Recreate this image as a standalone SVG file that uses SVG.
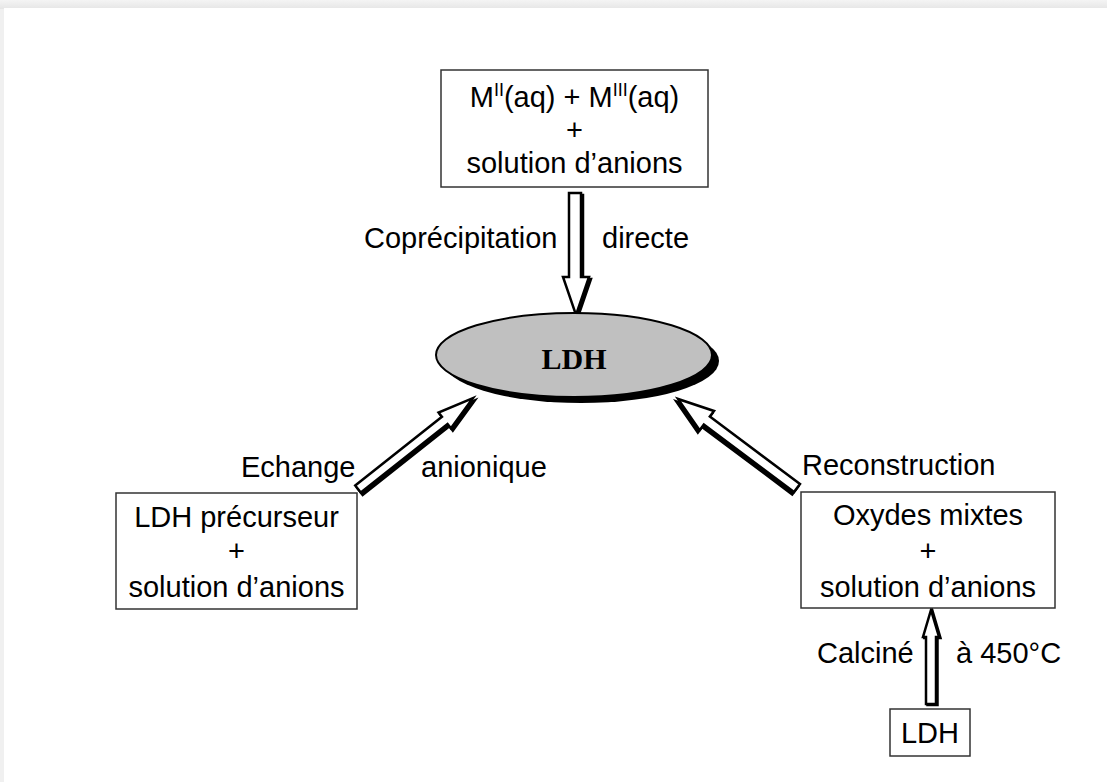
<svg xmlns="http://www.w3.org/2000/svg" width="1107" height="782" viewBox="0 0 1107 782">
<defs>
<style>
.t{font-family:"Liberation Sans",Arial,sans-serif;font-size:29px;fill:#000}
.c{text-anchor:middle}
.box{fill:#fff;stroke:#333;stroke-width:1.5}
.arr{fill:#fff;stroke:#000;stroke-width:2.5;stroke-linejoin:miter}
.sh{fill:#000;stroke:#000;stroke-width:2.5}
</style>
<linearGradient id="topg" x1="0" y1="0" x2="0" y2="1">
<stop offset="0" stop-color="#f4f4f4"/><stop offset="1" stop-color="#e6e6e6"/>
</linearGradient>
</defs>
<rect x="0" y="0" width="1107" height="782" fill="#f0f0f0"/>
<rect x="0" y="0" width="1107" height="9" fill="url(#topg)"/>
<rect x="4" y="8" width="1103" height="774" fill="#fff"/>

<g id="connectors">
<g id="arrow-coprecipitation">
<polygon class="sh" transform="translate(2 2)" points="569,193 581,193 581,277 589,277 576,315 563,277 569,277"/>
<polygon class="arr" points="569,193 581,193 581,277 589,277 576,315 563,277 569,277"/>
</g>
<g id="arrow-echange" transform="translate(358 489) rotate(-38.35)">
<polygon class="sh" transform="translate(0 3)" points="0,-4.5 110.6,-4.5 110.6,-10 146.6,0 110.6,10 110.6,4.5 0,4.5"/>
<polygon class="arr" points="0,-4.5 110.6,-4.5 110.6,-10 146.6,0 110.6,10 110.6,4.5 0,4.5"/>
</g>
<g id="arrow-reconstruction" transform="translate(797 488) rotate(-143.2)">
<polygon class="sh" transform="translate(0 -3)" points="0,-5 112.6,-5 112.6,-12 148.6,0 112.6,12 112.6,5 0,5"/>
<polygon class="arr" points="0,-5 112.6,-5 112.6,-12 148.6,0 112.6,12 112.6,5 0,5"/>
</g>
<g id="arrow-calcine">
<polygon class="sh" transform="translate(1.5 1)" points="926,704 936,704 936,637 939,637 931,610 923,637 926,637"/>
<polygon class="arr" points="926,704 936,704 936,637 939,637 931,610 923,637 926,637"/>
</g>
</g>

<g id="node-solution">
<rect class="box" x="441" y="70" width="267" height="117"/>
<text class="t c" x="574.5" y="107">M<tspan dy="-11" font-size="18">II</tspan><tspan dy="11">(aq) + M</tspan><tspan dy="-11" font-size="18">III</tspan><tspan dy="11">(aq)</tspan></text>
<text class="t c" x="574.5" y="140">+</text>
<text class="t c" x="574.5" y="173">solution d’anions</text>
</g>

<g id="node-ldh-center">
<ellipse cx="581" cy="361" rx="138" ry="42" fill="#000"/>
<ellipse cx="574" cy="355" rx="138" ry="42" fill="#c0c0c0" stroke="#000" stroke-width="2"/>
<text x="574" y="369" text-anchor="middle" font-family="'Liberation Serif','Times New Roman',serif" font-weight="bold" font-size="30">LDH</text>
</g>

<g id="node-precurseur">
<rect class="box" x="116" y="493" width="241" height="116"/>
<text class="t c" x="236.5" y="527">LDH précurseur</text>
<text class="t c" x="236.5" y="561">+</text>
<text class="t c" x="236.5" y="597">solution d’anions</text>
</g>

<g id="node-oxydes">
<rect class="box" x="801" y="492" width="254" height="116"/>
<text class="t c" x="928" y="525">Oxydes mixtes</text>
<text class="t c" x="928" y="561">+</text>
<text class="t c" x="928" y="597">solution d’anions</text>
</g>

<g id="node-ldh-bottom">
<rect class="box" x="890" y="709" width="80" height="47"/>
<text class="t c" x="930" y="743">LDH</text>
</g>

<g id="labels">
<text class="t" x="364" y="248">Coprécipitation</text>
<text class="t" x="602" y="248">directe</text>
<text class="t" x="241" y="477">Echange</text>
<text class="t" x="421" y="477">anionique</text>
<text class="t" x="802" y="475">Reconstruction</text>
<text class="t" x="817" y="663">Calciné</text>
<text class="t" x="956" y="663">à 450°C</text>
</g>
</svg>
